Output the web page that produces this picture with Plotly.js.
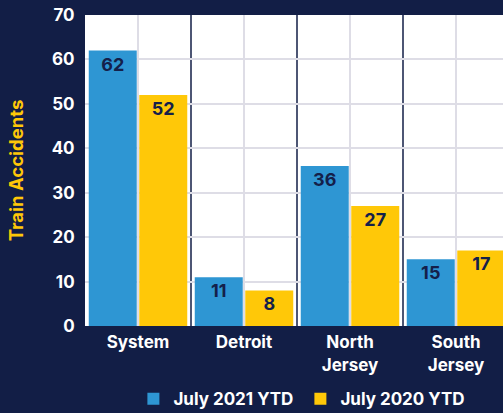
<!DOCTYPE html>
<html><head><meta charset="utf-8">
<script src="https://cdn.plot.ly/plotly-3.0.1.min.js"></script>
<style>html,body{margin:0;padding:0;background:#121e46;overflow:hidden;width:503px;height:413px}</style>
</head><body><div id="chart"></div>
<script>
const categories = ["System", "Detroit", "North<br>Jersey", "South<br>Jersey"];
const series2021Name = "July 2021 YTD";
const series2020Name = "July 2020 YTD";
const values2021 = [62, 11, 36, 15];
const values2020 = [52, 8, 27, 17];
const yTicks = [0, 10, 20, 30, 40, 50, 60, 70];

const navy = "#121e46";
const fontFam = "Inter, 'Open Sans', sans-serif";
const labelFont = {family: fontFam, size: 18, color: "#14204a", weight: 700};

const traces = [
  {type: "bar", name: series2021Name, x: categories, y: values2021,
   marker: {color: "#2e96d3"}, text: values2021.map(String),
   textposition: "inside", insidetextanchor: "end", textangle: 0,
   textfont: labelFont, cliponaxis: false},
  {type: "bar", name: series2020Name, x: categories, y: values2020,
   marker: {color: "#ffc808"}, text: values2020.map(String),
   textposition: "inside", insidetextanchor: "end", textangle: 0,
   textfont: labelFont, cliponaxis: false}
];

const layout = {
  width: 509, height: 413,
  margin: {l: 85, r: 0, t: 15, b: 87, autoexpand: false},
  paper_bgcolor: navy, plot_bgcolor: "#ffffff",
  barmode: "group", bargap: 0.047, bargroupgap: 0.05,
  font: {family: fontFam, color: "#ffffff", size: 17, weight: 700},
  xaxis: {
    range: [-0.5, 3.5], showgrid: true, gridcolor: "#dedde6", gridwidth: 1.5,
    tickfont: {family: fontFam, size: 17, color: "#ffffff", weight: 700},
    ticks: "outside", ticklen: 1, tickcolor: navy, zeroline: false, showline: false,
    automargin: false
  },
  yaxis: {
    range: [0, 70], tickvals: yTicks, ticktext: yTicks.map(String),
    showgrid: true, gridcolor: "#dedde6", gridwidth: 1.5,
    zeroline: false, showline: false, ticks: "outside", ticklen: 6, tickcolor: navy,
    tickfont: {family: fontFam, size: 17, color: "#ffffff", weight: 700},
    automargin: false,
    title: {text: "Train Accidents", standoff: 23,
            font: {family: fontFam, size: 18.5, color: "#ffc808", weight: 700}}
  },
  showlegend: true,
  legend: {orientation: "h", x: 0.508, xanchor: "center", y: -0.235, yanchor: "middle",
           font: {family: fontFam, size: 17, color: "#ffffff", weight: 700},
           bgcolor: "rgba(0,0,0,0)", itemwidth: 30, entrywidth: 122},
  shapes: [0.5, 1.5, 2.5].map(v => ({type: "line", xref: "x", yref: "paper",
           x0: v, x1: v, y0: 0, y1: 1, line: {color: navy, width: 1.5}, layer: "below"}))
};

Plotly.newPlot("chart", traces, layout, {displayModeBar: false, responsive: false});
</script></body></html>
